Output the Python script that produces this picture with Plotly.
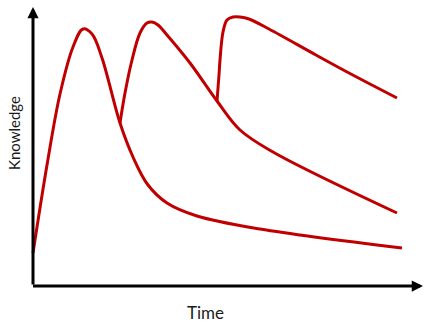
import plotly.graph_objects as go

# Curve 1 (first learning + forgetting)
t1 = [0, 14, 27, 40, 50, 59, 69, 87, 100, 115, 134, 164, 227, 369]
k1 = [33, 121, 192, 239, 257, 252, 228, 163, 129, 101, 83, 70, 57, 38]

# Curve 2 (first review)
t2 = [87, 92, 99, 107, 114, 119, 125, 134, 157, 184, 207, 240, 364]
k2 = [163, 193, 226, 253, 263, 264, 261, 251, 223, 185, 156, 134, 73]

# Curve 3 (second review)
t3 = [184, 186, 187, 190, 194, 200, 207, 216, 236, 283, 316, 364]
k3 = [185, 211, 226, 254, 266, 269, 269, 267, 257, 231, 213, 188]

x_label = "Time"
y_label = "Knowledge"

RED = "#C00000"

fig = go.Figure()
for t, k in [(t1, k1), (t2, k2), (t3, k3)]:
    fig.add_trace(go.Scatter(x=t, y=k, mode="lines",
                             line=dict(color=RED, width=3, shape="spline", smoothing=1.0),
                             hoverinfo="skip", showlegend=False))

# axes with arrows
fig.add_annotation(x=0, y=279, ax=0, ay=0, xref="x", yref="y", axref="x", ayref="y",
                   showarrow=True, arrowhead=2, arrowsize=0.75, arrowwidth=3,
                   arrowcolor="black", text="", standoff=0, startstandoff=0)
fig.add_annotation(x=390, y=0, ax=-1.5, ay=0, xref="x", yref="y", axref="x", ayref="y",
                   showarrow=True, arrowhead=2, arrowsize=0.75, arrowwidth=3,
                   arrowcolor="black", text="", standoff=0, startstandoff=0)

fig.add_annotation(x=-19, y=153, xref="x", yref="y", text=y_label, textangle=-90,
                   showarrow=False, font=dict(family="Lato", size=15, color="#1a1a1a"))
fig.add_annotation(x=172, y=-26, xref="x", yref="y", text=x_label,
                   showarrow=False, font=dict(family="Lato", size=17, color="#1a1a1a"))

fig.update_layout(
    width=432, height=327,
    margin=dict(l=0, r=0, t=0, b=0),
    paper_bgcolor="white", plot_bgcolor="white",
    xaxis=dict(range=[-33, 399], visible=False, fixedrange=True),
    yaxis=dict(range=[-41, 286], visible=False, fixedrange=True),
)

fig.write_html("out.html")
